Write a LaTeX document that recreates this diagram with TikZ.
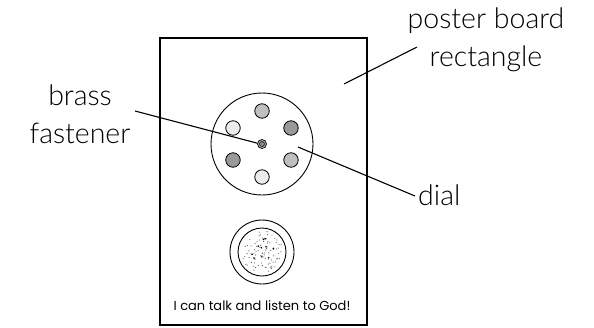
\documentclass[tikz,border=0pt]{standalone}
\usepackage{fontspec}
\setmainfont{Lato Light}
\newfontfamily\kidfont{Poppins}
\usetikzlibrary{calc}
\begin{document}
\begin{tikzpicture}[x=1pt,y=-1pt,
  lbl/.style={font=\fontsize{28.5}{38}\selectfont, align=center, inner sep=0pt, text=black},
  leader/.style={line width=1.1pt},
  knob/.style={circle, draw, line width=0.8pt, minimum size=14.5pt, inner sep=0pt},
  board/.style={draw, line width=2pt, minimum width=207pt, minimum height=287pt, inner sep=0pt}]
\useasboundingbox (0,0) rectangle (594,327);
\node[board] (board) at (263,181) {};
% dial
\node[circle, draw, line width=0.9pt, minimum size=102pt, inner sep=0pt] (dial) at (262,144) {};
\node[knob, fill=black!25] (k1) at (262,111) {};
\node[knob, fill=black!8]  (k2) at (233,128) {};
\node[knob, fill=black!40] (k3) at (291,128) {};
\node[knob, fill=black!40] (k4) at (233,160) {};
\node[knob, fill=black!25] (k5) at (291,160) {};
\node[knob, fill=black!8]  (k6) at (262,177) {};
\node[circle, draw, line width=0.7pt, fill=black!30, minimum size=9pt, inner sep=0pt] (fast) at (262,144) {};
\node[circle, draw, line width=0.5pt, fill=black!45, minimum size=5pt, inner sep=0pt] at (fast) {};
% speaker
\node[circle, draw, line width=0.9pt, minimum size=64pt, inner sep=0pt] (spk) at (262,252) {};
\node[circle, draw, line width=0.9pt, minimum size=48pt, inner sep=0pt] (spkin) at (spk) {};
\pgfmathsetseed{7}
\foreach \i in {1,...,90}{
  \pgfmathsetmacro{\rr}{21*sqrt(rnd)}
  \pgfmathsetmacro{\aa}{360*rnd}
  \fill[black!70] ($(spk)+(\aa:\rr)$) circle (0.55pt);
}
\foreach \i in {1,...,10}{
  \pgfmathsetmacro{\rr}{15*sqrt(rnd)}
  \pgfmathsetmacro{\aa}{360*rnd}
  \fill[black] ($(spk)+(\aa:\rr)$) circle (0.85pt);
}
\node[font=\kidfont\fontsize{13}{15}\selectfont, inner sep=0pt] (caption) at (262,306) {I can talk and listen to God!};
% labels
\node[lbl] (pb) at (486,40) {poster board\\rectangle};
\node[lbl] (bf) at (80,114) {brass\\fastener};
\node[lbl, anchor=base west] (dl) at (418,205) {dial};
\coordinate (pbend) at (417,47);
\coordinate (bfend) at (135,111);
\coordinate (dlend) at (415,196);
\coordinate (pbtip) at (344,84);
\coordinate (dltip) at (298,147);
\draw[leader] (pbend) -- (pbtip);
\draw[leader] (bfend) -- (fast.170);
\draw[leader] (dlend) -- (dltip);
\end{tikzpicture}
\end{document}
